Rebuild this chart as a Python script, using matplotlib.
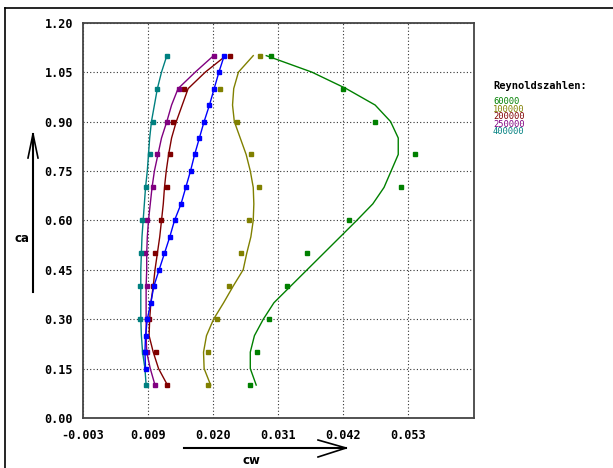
import matplotlib
matplotlib.use("Agg")
import matplotlib.pyplot as plt
from matplotlib.lines import Line2D

# ---------------- data ----------------
ca_marks = [0.10, 0.20, 0.30, 0.40, 0.50, 0.60, 0.70, 0.80, 0.90, 1.00, 1.10]
ca_curve = [0.10, 0.15, 0.20, 0.25, 0.30, 0.35, 0.40, 0.45, 0.50, 0.55, 0.60,
            0.65, 0.70, 0.75, 0.80, 0.85, 0.90, 0.95, 1.00, 1.05, 1.10]

re_labels = ["60000", "100000", "200000", "250000", "400000"]
re_colors = ["#008000", "#808000", "#800000", "#800080", "#008080"]

cw_marks_60k = [0.0258, 0.0270, 0.0290, 0.0320, 0.0354, 0.0424, 0.0512, 0.0537, 0.0469, 0.0414, 0.0293]
cw_marks_100k = [0.0187, 0.0187, 0.0202, 0.0222, 0.0242, 0.0255, 0.0273, 0.0260, 0.0236, 0.0207, 0.0274]
cw_marks_200k = [0.0118, 0.0098, 0.0087, 0.0093, 0.0097, 0.0107, 0.0117, 0.0122, 0.0128, 0.0146, 0.0223]
cw_marks_250k = [0.0097, 0.0083, 0.0084, 0.0083, 0.0080, 0.0083, 0.0093, 0.0101, 0.0117, 0.0138, 0.0197]
cw_marks_400k = [0.0081, 0.0078, 0.0072, 0.0072, 0.0074, 0.0075, 0.0082, 0.0089, 0.0094, 0.0101, 0.0117]

cw_curve_60k = [0.0268, 0.0258, 0.0258, 0.0265, 0.0280, 0.0298, 0.0326, 0.0354, 0.0382, 0.0410, 0.0438,
                0.0465, 0.0484, 0.0496, 0.0508, 0.0508, 0.0495, 0.0469, 0.0420, 0.0362, 0.0285]
cw_curve_100k = [0.0191, 0.0180, 0.0179, 0.0184, 0.0196, 0.0213, 0.0229, 0.0246, 0.0252, 0.0259, 0.0263,
                 0.0264, 0.0263, 0.0258, 0.0251, 0.0241, 0.0231, 0.0228, 0.0230, 0.0238, 0.0263]
cw_curve_200k = [0.0118, 0.0103, 0.0094, 0.0087, 0.0088, 0.0090, 0.0094, 0.0097, 0.0101, 0.0105, 0.0108,
                 0.0111, 0.0113, 0.0116, 0.0120, 0.0125, 0.0133, 0.0143, 0.0153, 0.0182, 0.0217]
cw_curve_250k = [0.0097, 0.0089, 0.0083, 0.0082, 0.0082, 0.0082, 0.0082, 0.0083, 0.0083, 0.0084, 0.0086,
                 0.0089, 0.0092, 0.0096, 0.0102, 0.0108, 0.0117, 0.0125, 0.0136, 0.0165, 0.0196]
cw_curve_400k = [0.0082, 0.0080, 0.0076, 0.0074, 0.0073, 0.0073, 0.0073, 0.0073, 0.0074, 0.0075, 0.0077,
                 0.0079, 0.0081, 0.0084, 0.0086, 0.0088, 0.0091, 0.0096, 0.0101, 0.0108, 0.0117]

ca_blue = [0.15, 0.20, 0.25, 0.30, 0.35, 0.40, 0.45, 0.50, 0.55, 0.60,
           0.65, 0.70, 0.75, 0.80, 0.85, 0.90, 0.95, 1.00, 1.05, 1.10]
cw_blue = [0.0081, 0.0080, 0.0081, 0.0084, 0.0090, 0.0095, 0.0104, 0.0113, 0.0122, 0.0130,
           0.0141, 0.0149, 0.0157, 0.0164, 0.0172, 0.0180, 0.0189, 0.0197, 0.0205, 0.0214]

x_ticks = [-0.0025, 0.0085, 0.0195, 0.0305, 0.0415, 0.0525]
x_tick_labels = ["-0.003", "0.009", "0.020", "0.031", "0.042", "0.053"]
y_ticks = [0.00, 0.15, 0.30, 0.45, 0.60, 0.75, 0.90, 1.05, 1.20]
y_tick_labels = ["%.2f" % v for v in y_ticks]

marks = [cw_marks_60k, cw_marks_100k, cw_marks_200k, cw_marks_250k, cw_marks_400k]
curves = [cw_curve_60k, cw_curve_100k, cw_curve_200k, cw_curve_250k, cw_curve_400k]

# ---------------- figure ----------------
W, H = 613, 468
fig = plt.figure(figsize=(W / 100, H / 100), dpi=100)
fig.patch.set_facecolor("white")

def fx(px):
    return px / W

def fy(py):
    return 1 - py / H

ax = fig.add_axes([fx(82.8), fy(418), fx(474) - fx(82.8), fy(22.7) - fy(418)])
ax.set_xlim(-0.0025, 0.0636)
ax.set_ylim(0, 1.2)

for cw_c, cw_m, col in zip(curves, marks, re_colors):
    ax.plot(cw_c, ca_curve, color=col, lw=1.0, zorder=2)
    ax.plot(cw_m, ca_marks, ls="none", marker="s", ms=2.6, color=col, mec=col, zorder=3)

ax.plot(cw_blue, ca_blue, color="#0000ff", lw=1.0, marker="s", ms=2.6, zorder=4)

ax.set_xticks(x_ticks)
ax.set_xticklabels(x_tick_labels)
ax.set_yticks(y_ticks)
ax.set_yticklabels(y_tick_labels)
ax.tick_params(length=0, labelsize=8.5, pad=7)
for lab in ax.get_xticklabels() + ax.get_yticklabels():
    lab.set_family("DejaVu Sans Mono")
    lab.set_fontweight("bold")
ax.tick_params(axis="x", pad=8)
ax.grid(True, color="#333333", linestyle=(0, (1, 2)), lw=0.8)
for sp in ax.spines.values():
    sp.set_color("#444444")
    sp.set_linewidth(1.3)

# outer border (top and left)
fig.add_artist(Line2D([fx(5), 1], [fy(7.5), fy(7.5)], color="black", lw=1.2))
fig.add_artist(Line2D([fx(5), fx(5)], [fy(7.5), 0], color="black", lw=1.2))

# ca arrow
fig.add_artist(Line2D([fx(33), fx(33)], [fy(292), fy(134)], color="black", lw=1.5))
fig.add_artist(Line2D([fx(28), fx(33), fx(38)], [fy(158), fy(134), fy(158)], color="black", lw=1.2))
fig.text(fx(22), fy(238), "ca", ha="center", va="center", fontsize=8.5,
         family="DejaVu Sans", fontweight="bold")

# cw arrow
fig.add_artist(Line2D([fx(184), fx(346)], [fy(448), fy(448)], color="black", lw=1.5))
fig.add_artist(Line2D([fx(318), fx(346), fx(318)], [fy(440), fy(448), fy(457)], color="black", lw=1.2))
fig.text(fx(251), fy(461), "cw", ha="center", va="center", fontsize=8.5,
         family="DejaVu Sans", fontweight="bold")

# legend text
fig.text(fx(493), fy(86), "Reynoldszahlen:", ha="left", va="center", fontsize=7.5,
         family="DejaVu Sans Mono", fontweight="bold", color="black")
for i, (lab, col) in enumerate(zip(re_labels, re_colors)):
    fig.text(fx(493), fy(102 + 7.4 * i), lab, ha="left", va="center", fontsize=6.3,
             family="DejaVu Sans Mono", color=col)

fig.savefig("out.png", dpi=100, facecolor="white")
